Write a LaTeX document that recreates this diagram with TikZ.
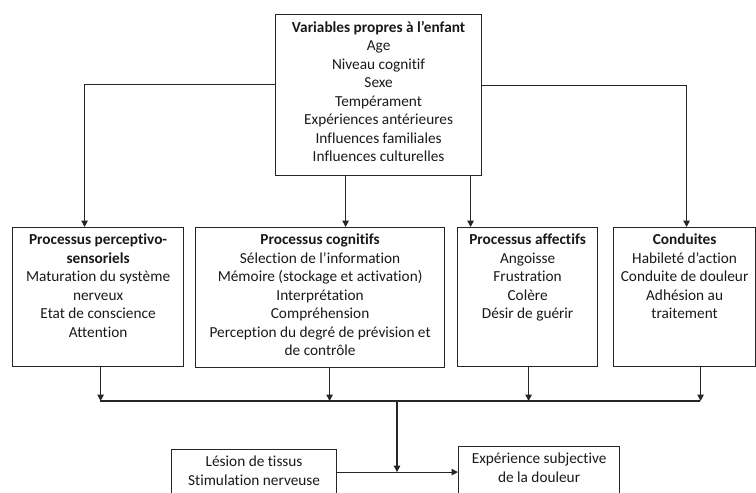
\documentclass[tikz,border=0pt]{standalone}
\usepackage{fontspec}
\setmainfont{Carlito}[Ligatures=NoCommon]
\usetikzlibrary{arrows.meta}

\colorlet{trait}{black!85}

\tikzset{
  boite/.style={draw=trait, line width=1.2pt, inner sep=0pt, anchor=north west},
  texte/.style={anchor=north, align=center, inner sep=0pt, yshift=-7pt, text=black!90,
    font=\fontsize{15.3}{18.5}\selectfont},
  fleche/.style={draw=trait, line width=1.2pt, -{Triangle[width=6.5pt,length=6.5pt]}},
}

\begin{document}
\begin{tikzpicture}[x=1pt, y=-1pt]
\clip (0,0) rectangle (756,493);

% boite du haut
\node[boite, minimum width=206pt, minimum height=161pt,
  label={[texte]north:{\textbf{Variables propres à l’enfant}\\Age\\Niveau cognitif\\Sexe\\Tempérament\\Expériences antérieures\\Influences familiales\\Influences culturelles}}]
  (var) at (275,14) {};

% les quatre processus
\node[boite, minimum width=171pt, minimum height=139pt,
  label={[texte]north:{\textbf{Processus perceptivo-}\\\textbf{sensoriels}\\Maturation du système\\nerveux\\Etat de conscience\\Attention}}]
  (perc) at (12,227) {};
\node[boite, minimum width=249pt, minimum height=140pt,
  label={[texte]north:{\textbf{Processus cognitifs}\\Sélection de l’information\\Mémoire (stockage et activation)\\Interprétation\\Compréhension\\Perception du degré de prévision et\\de contrôle}}]
  (cogn) at (195,227) {};
\node[boite, minimum width=140pt, minimum height=139pt,
  label={[texte]north:{\textbf{Processus affectifs}\\Angoisse\\Frustration\\Colère\\Désir de guérir}}]
  (affe) at (457,227) {};
\node[boite, minimum width=142pt, minimum height=139pt,
  label={[texte]north:{\textbf{Conduites}\\Habileté d’action\\Conduite de douleur\\Adhésion au\\traitement}}]
  (cond) at (613,227) {};

% boites du bas (coupees par le bord)
\node[boite, minimum width=165pt, minimum height=45pt,
  label={[texte]north:{Lésion de tissus\\Stimulation nerveuse}}]
  (lesion) at (171,449) {};
\node[boite, minimum width=161pt, minimum height=51pt,
  label={[texte]north:{Expérience subjective\\de la douleur}}]
  (douleur) at (458,446) {};

% vers les processus
\draw[fleche] ([yshift=10.5pt]var.west) -| ([xshift=-13.5pt]perc.north);
\draw[fleche] ([yshift=9.5pt]var.east) -| ([xshift=2pt]cond.north);
\draw[fleche] ([xshift=-33pt]var.south) -- ([xshift=-33pt]var.south |- cogn.north);
\draw[fleche] ([xshift=92pt]var.south) -- ([xshift=92pt]var.south |- affe.north);

% barre de regroupement
\coordinate (barreG) at (100,401);
\coordinate (barreD) at (700,401);
\coordinate (jonction) at (397,401);
\draw[fleche] ([xshift=2.5pt]perc.south) -- ([xshift=2.5pt]perc.south |- barreG);
\draw[fleche] ([xshift=9.5pt]cogn.south) -- ([xshift=9.5pt]cogn.south |- barreG);
\draw[fleche] ([xshift=1pt]affe.south) -- ([xshift=1pt]affe.south |- barreG);
\draw[fleche] ([xshift=16pt]cond.south) -- ([xshift=16pt]cond.south |- barreD);
\draw[draw=trait, line width=1.2pt] (barreG) -- (barreD);

% vers l'experience
\draw[fleche] (jonction) -- (jonction |- lesion.east);
\draw[fleche] (lesion.east) -- (douleur.west);
\end{tikzpicture}
\end{document}
